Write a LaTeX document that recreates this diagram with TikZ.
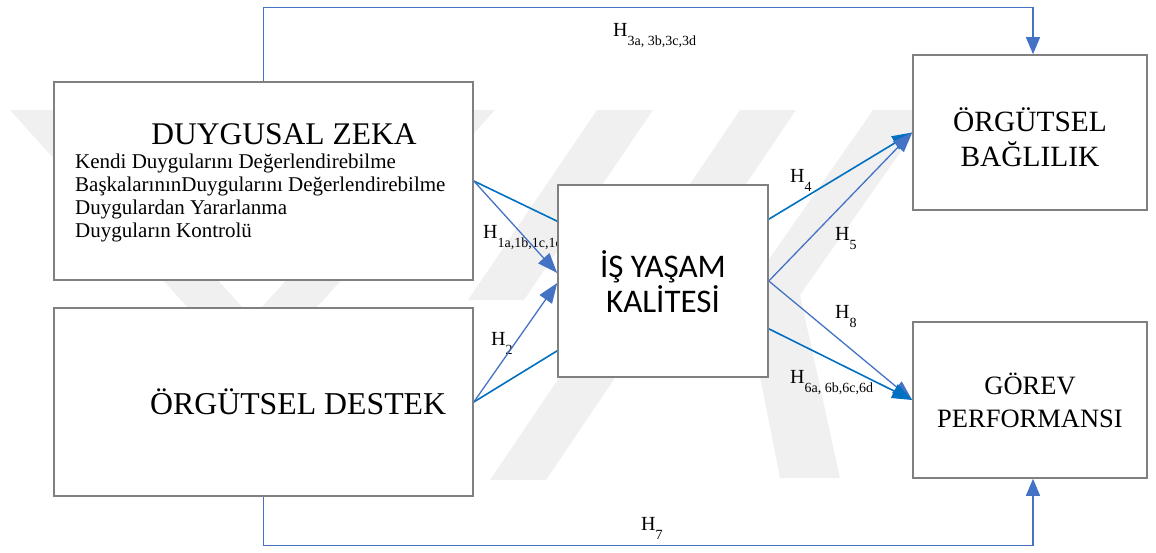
\documentclass[tikz,border=0pt]{standalone}
\usepackage{fontspec}
\setmainfont{Liberation Serif}
\newfontfamily\calibrifont{Carlito}
\usetikzlibrary{arrows.meta,calc}
\definecolor{boxgray}{RGB}{128,128,128}
\definecolor{linkblue}{RGB}{0,112,192}
\definecolor{arrowblue}{RGB}{68,114,196}
\definecolor{wmgray}{RGB}{240,240,240}
\pgfdeclarelayer{wmlayer}
\pgfdeclarelayer{linklayer}
\pgfsetlayers{wmlayer,linklayer,main}
% hypothesis label: H with a lowered index
\newcommand\hyp[1]{H\raisebox{-9pt}{\fontsize{14}{14}\selectfont #1}}

\begin{document}
\begin{tikzpicture}[x=1pt,y=-1pt,
  box/.style={draw=boxgray,line width=1.6pt,fill=white,inner sep=0pt},
  plainlink/.style={draw=linkblue,line width=1.6pt},
  bigtip/.style={-{Triangle[length=20pt,width=15pt]}},
  arrowlink/.style={draw=arrowblue,line width=1.3pt,bigtip},
  hlab/.style={anchor=base west,inner sep=0pt,font=\fontsize{20}{20}\selectfont},
  wm/.style={fill=wmgray,draw=none}]
\useasboundingbox (0,0) rectangle (1156,552);

% boxes
\node[box,minimum width=419pt,minimum height=198pt] (zeka) at (263.5,181) {};
\node[box,minimum width=419pt,minimum height=188pt] (destek) at (263.5,402) {};
\node[box,minimum width=210pt,minimum height=192pt] (is) at (663,281) {};
\node[box,minimum width=234pt,minimum height=155pt] (bag) at (1030,132.5) {};
\node[box,minimum width=234pt,minimum height=156pt] (gor) at (1030,400) {};

% box texts
\node[anchor=base,inner sep=0pt,font=\fontsize{31.5}{31.5}\selectfont] (zekatitle) at (284,144) {DUYGUSAL ZEKA};
\begin{scope}[every node/.style={anchor=base west,inner sep=0pt,font=\fontsize{21}{21}\selectfont}]
  \node (zekaA) at (75,168) {Kendi Duygularını Değerlendirebilme};
  \node (zekaB) at (75,191) {BaşkalarınınDuygularını Değerlendirebilme};
  \node (zekaC) at (75,214) {Duygulardan Yararlanma};
  \node (zekaD) at (75,237) {Duyguların Kontrolü};
\end{scope}
\node[anchor=base west,inner sep=0pt,font=\fontsize{31.8}{31.8}\selectfont] (destektext) at (150,414) {ÖRGÜTSEL DESTEK};
\node[anchor=base,inner sep=0pt,font=\calibrifont\fontsize{33}{33}\selectfont] (isA) at (663,277) {İŞ YAŞAM};
\node[anchor=base,inner sep=0pt,font=\calibrifont\fontsize{33}{33}\selectfont] (isB) at (663,312) {KALİTESİ};
\node[anchor=base,inner sep=0pt,font=\fontsize{29.4}{29.4}\selectfont] (bagA) at (1030,131) {ÖRGÜTSEL};
\node[anchor=base,inner sep=0pt,font=\fontsize{29.4}{29.4}\selectfont] (bagB) at (1030,166) {BAĞLILIK};
\node[anchor=base,inner sep=0pt,font=\fontsize{26.5}{26.5}\selectfont] (gorA) at (1030,394) {GÖREV};
\node[anchor=base,inner sep=0pt,font=\fontsize{26.5}{26.5}\selectfont] (gorB) at (1030,427) {PERFORMANSI};

% connectors and labels
\begin{pgfonlayer}{linklayer}
  \node[hlab] (h3) at (613,36) {\hyp{3a, 3b,3c,3d}};
  \node[hlab] (h1) at (483,238) {\hyp{1a,1b,1c,1d}};
  \node[hlab] (h2) at (491,345) {\hyp{2}};
  \node[hlab] (h4) at (790,182) {\hyp{4}};
  \node[hlab] (h5) at (835,240) {\hyp{5}};
  \node[hlab] (h8) at (835,318) {\hyp{8}};
  \node[hlab] (h6) at (790,383) {\hyp{6a, 6b,6c,6d}};
  \node[hlab] (h7) at (641,530) {\hyp{7}};

  \draw[plainlink] (zeka.east) -- ($(is.north west)+(0,37)$);
  \draw[arrowlink] (zeka.east) -- ($(is.west)+(0,-8)$);
  \draw[plainlink] (destek.east) -- ($(is.south west)+(0,-27)$);
  \draw[arrowlink] (destek.east) -- ($(is.west)+(0,2)$);

  \draw[plainlink,bigtip] ($(is.north east)+(0,35)$) -- (bag.west);
  \draw[arrowlink] (is.east) -- (bag.west);
  \draw[arrowlink] (is.east) -- (gor.west);
  \draw[plainlink,bigtip] ($(is.south east)+(0,-49)$) -- (gor.west);

  \draw[arrowlink,-{Triangle[length=17pt,width=14pt]}] (zeka.north) -- ++(0,-74) -| ($(bag.north)+(3,0)$);
  \draw[arrowlink,-{Triangle[length=17pt,width=14pt]}] (destek.south) -- ++(0,49) -| ($(gor.south)+(3,0)$);
\end{pgfonlayer}

% faint striped emblem in the background
\begin{pgfonlayer}{wmlayer}
  \fill[wm] (10,110) -- (65,110) -- (252,318) -- (440,110) -- (495,110) -- (252,379) -- cycle;
  \fill[wm] (597,110) -- (653,110) -- (524,300) -- (468,300) -- cycle;
  \fill[wm] (740,110) -- (796,110) -- (546,480) -- (490,480) -- cycle;
  \fill[wm] (873,110) -- (930,110) -- (800,295) -- (840,478) -- (780,478) -- (744,295) -- cycle;
\end{pgfonlayer}
\end{tikzpicture}
\end{document}
